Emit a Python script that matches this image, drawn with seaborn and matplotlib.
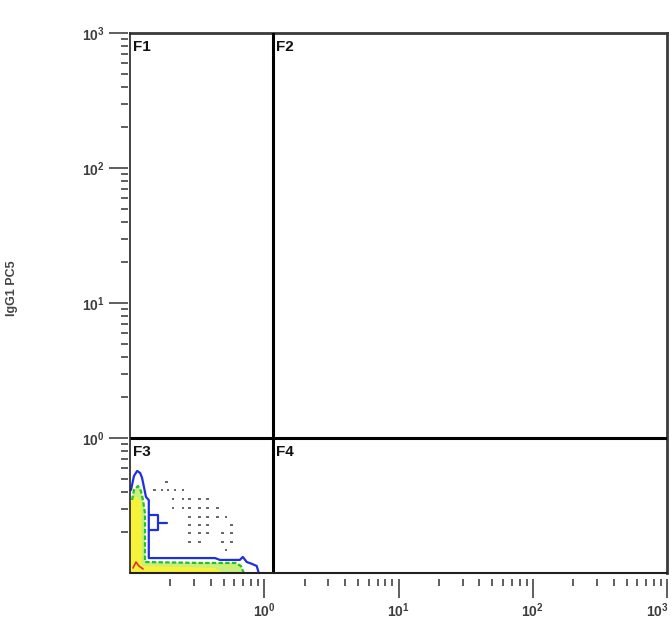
import numpy as np
import pandas as pd
import matplotlib
matplotlib.use("Agg")
import matplotlib.pyplot as plt
from matplotlib.ticker import LogLocator, FixedLocator, NullFormatter
import seaborn as sns

# ---- data (log-scaled fluorescence, arbitrary units) ----
axis_min, axis_max = 0.1, 1000.0
x_gate = 1.157          # vertical quadrant marker
y_gate = 1.0            # horizontal quadrant marker
quadrant_names = ["F1", "F2", "F3", "F4"]
major_ticks = [1, 10, 100, 1000]
major_labels = ["$10^0$", "$10^1$", "$10^2$", "$10^3$"]
y_title = "IgG1 PC5"

# outer (blue) density contour
blue_x = [0.1017, 0.107, 0.113, 0.119, 0.123, 0.127, 0.1315, 0.138, 0.138,
          0.235, 0.43, 0.467, 0.658, 0.692, 0.741, 0.807, 0.879, 0.91]
blue_y = [0.412, 0.523, 0.570, 0.551, 0.506, 0.434, 0.366, 0.347, 0.129,
          0.129, 0.129, 0.125, 0.125, 0.1315, 0.1206, 0.117, 0.1127, 0.1]
# small blue island beside the main contour
island_x = [0.138, 0.1614, 0.1614, 0.138]
island_y = [0.269, 0.269, 0.208, 0.208]
spur_x = [0.1614, 0.188]
spur_y = [0.2345, 0.2345]

# middle (green) contour
green_x = [0.1035, 0.107, 0.1147, 0.1207, 0.125, 0.1293, 0.1293,
           0.331, 0.614, 0.669, 0.704]
green_y = [0.347, 0.412, 0.441, 0.405, 0.347, 0.278, 0.1206,
           0.1187, 0.1187, 0.1127, 0.1]

# inner (yellow) density region
yellow_x = [0.1, 0.1, 0.107, 0.1147, 0.1207, 0.1228, 0.2354, 0.4285, 0.50]
yellow_y = [0.1, 0.33, 0.36, 0.365, 0.33, 0.113, 0.111, 0.109, 0.1]

# innermost (red) contour
red_x = [0.1053, 0.1108, 0.1166, 0.125]
red_y = [0.109, 0.1206, 0.1127, 0.1071]

# sparse events outside the contours
dot_rows = {
    0.472: [0.188],
    0.412: [0.153, 0.173, 0.192, 0.216, 0.248],
    0.353: [0.209, 0.248, 0.279, 0.331, 0.380],
    0.303: [0.209, 0.248, 0.279, 0.331, 0.380, 0.448],
    0.260: [0.279, 0.331, 0.380, 0.448, 0.518],
    0.227: [0.279, 0.331, 0.380, 0.573],
    0.198: [0.279, 0.331, 0.380, 0.491, 0.573],
    0.170: [0.279, 0.331, 0.491, 0.573],
    0.148: [0.518],
}
events = pd.DataFrame(
    [(x, y) for y, xs in dot_rows.items() for x in xs], columns=["x", "y"]
)

# ---- figure ----
sns.set_theme(style="white")
plt.rcParams["font.family"] = ["Liberation Sans", "DejaVu Sans"]
plt.rcParams["mathtext.fontset"] = "custom"
plt.rcParams["mathtext.rm"] = "Liberation Sans:bold"
plt.rcParams["mathtext.it"] = "Liberation Sans:bold"
plt.rcParams["mathtext.bf"] = "Liberation Sans:bold"

fig = plt.figure(figsize=(6.71, 6.19), dpi=100)
ax = fig.add_axes([130 / 671, 1 - 573 / 619, 537 / 671, 540 / 619])
ax.set_facecolor("white")
ax.set_xscale("log")
ax.set_yscale("log")
ax.set_xlim(axis_min, axis_max)
ax.set_ylim(axis_min, axis_max)

# density contours
ax.fill(green_x + [0.1], green_y + [0.1], color="#c8f07a", lw=0, zorder=2)
ax.fill(yellow_x, yellow_y, color="#f6f23a", lw=0, zorder=3)
sns.lineplot(x=green_x, y=green_y, sort=False, estimator=None, ax=ax,
             color="#22c022", lw=1.6, ls=(0, (2, 1)), zorder=4)
sns.lineplot(x=red_x, y=red_y, sort=False, estimator=None, ax=ax,
             color="#e03030", lw=1.2, zorder=4)
sns.lineplot(x=blue_x, y=blue_y, sort=False, estimator=None, ax=ax,
             color="#1f2ee0", lw=1.6, zorder=5)
sns.lineplot(x=island_x, y=island_y, sort=False, estimator=None, ax=ax,
             color="#1f2ee0", lw=1.6, zorder=5)
sns.lineplot(x=spur_x, y=spur_y, sort=False, estimator=None, ax=ax,
             color="#1f2ee0", lw=1.6, zorder=5)

# scattered events
sns.scatterplot(data=events, x="x", y="y", ax=ax, marker="s", s=4,
                color="#6a6a6a", edgecolor="none", zorder=4)

# quadrant markers
ax.axvline(x_gate, color="black", lw=2.2, zorder=6)
ax.axhline(y_gate, color="black", lw=2.2, zorder=6)

label_kw = dict(fontsize=11, fontweight="bold", color="#111111",
                va="top", ha="left", zorder=7)
corners = [(axis_min, axis_max), (x_gate, axis_max),
           (axis_min, y_gate), (x_gate, y_gate)]
for name, (cx, cy) in zip(quadrant_names, corners):
    ax.annotate(name, (cx, cy), xytext=(2, -5), textcoords="offset points",
                **label_kw)

# frame: ticks sit a little away from the axes
for side in ["top", "right"]:
    ax.spines[side].set_color("#3a3a3a")
    ax.spines[side].set_linewidth(2.0)
ax.spines["bottom"].set_position(("outward", 4))
ax.spines["left"].set_position(("outward", 1.5))
for side in ["bottom", "left"]:
    ax.spines[side].set_color("none")
ax.plot([0, 1], [0, 0], transform=ax.transAxes, color="#222222", lw=1.5,
        clip_on=False, zorder=8)
ax.plot([0, 0], [0, 1], transform=ax.transAxes, color="#222222", lw=1.2,
        clip_on=False, zorder=8)

tick_label_size = 10
tick_label_color = "#3c3c3c"
major_len, tick_pad, spine_gap = 13.5, 3, 4
for axis in (ax.xaxis, ax.yaxis):
    axis.set_major_locator(FixedLocator(major_ticks))
    axis.set_minor_locator(LogLocator(base=10, subs=np.arange(2, 10)))
    axis.set_minor_formatter(NullFormatter())
# the last x label is right-aligned at the axis end so it stays on the page
ax.set_xticklabels(major_labels[:-1] + [""])
ax.annotate(major_labels[-1], (major_ticks[-1], 0),
            xycoords=("data", "axes fraction"),
            xytext=(1, -(spine_gap + major_len + tick_pad)),
            textcoords="offset points", ha="right", va="top",
            fontsize=tick_label_size, color=tick_label_color,
            annotation_clip=False)
ax.set_yticklabels(major_labels)
ax.tick_params(which="major", direction="out", length=major_len, width=1.1,
               color="#333333", labelsize=tick_label_size,
               labelcolor=tick_label_color, pad=tick_pad,
               bottom=True, left=True)
ax.tick_params(which="minor", direction="out", length=5, width=1.1,
               color="#333333", bottom=True, left=True)
ax.set_xlabel("")
ax.set_ylabel("")
fig.text(12 / 671, 1 - 288 / 619, y_title, rotation=90, fontsize=9,
         fontweight="bold", color="#444444", ha="center", va="center")

fig.savefig("out.png", dpi=100, facecolor="white")
